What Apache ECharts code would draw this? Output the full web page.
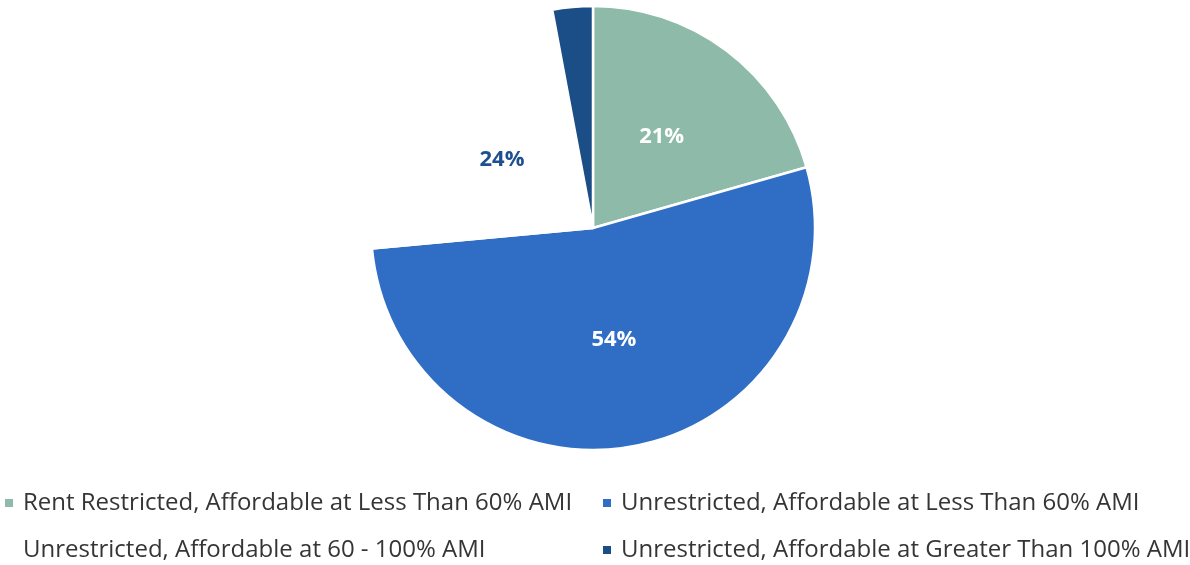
<!DOCTYPE html>
<html>
<head>
<meta charset="utf-8">
<script src="https://cdn.jsdelivr.net/npm/echarts@6/dist/echarts.min.js"></script>
<style>
  html, body { margin: 0; padding: 0; background: #ffffff; }
  #chart { width: 1190px; height: 565px; }
</style>
</head>
<body>
<div id="chart"></div>
<script>
// Housing stock by affordability / restriction category (percent)
const categories = [
  'Rent Restricted, Affordable at Less Than 60% AMI',
  'Unrestricted, Affordable at Less Than 60% AMI',
  'Unrestricted, Affordable at 60 - 100% AMI',
  'Unrestricted, Affordable at Greater Than 100% AMI'
];
const shares = [21, 54, 24, 3];
const sliceColors = ['#8dbaa9', '#2f6ec4', '#ffffff', '#1b4d86'];
const labelColors = ['#ffffff', '#ffffff', '#1f4f8e', '#ffffff'];
const showLabel = [true, true, true, false];

const pieData = categories.map((name, i) => ({
  name: name,
  value: shares[i],
  itemStyle: { color: sliceColors[i] },
  label: { show: showLabel[i], color: labelColors[i] }
}));

const legendBase = {
  orient: 'vertical',
  icon: 'rect',
  itemWidth: 8,
  itemHeight: 8,
  itemGap: 21,
  padding: 0,
  height: 74,
  selectedMode: false,
  itemStyle: { borderWidth: 0 },
  textStyle: {
    fontFamily: 'Open Sans',
    fontSize: 24,
    lineHeight: 26,
    color: '#353535',
    padding: [0, 0, 0, 5]
  }
};

const chart = echarts.init(document.getElementById('chart'), null, { renderer: 'canvas' });
chart.setOption({
  backgroundColor: '#ffffff',
  animation: false,
  legend: [
    Object.assign({}, legendBase, { left: 5, top: 490, data: [categories[0], categories[2]] }),
    Object.assign({}, legendBase, { left: 603, top: 490, data: [categories[1], categories[3]] })
  ],
  series: [{
    type: 'pie',
    center: [593, 228],
    radius: 222,
    startAngle: 90,
    clockwise: true,
    avoidLabelOverlap: false,
    itemStyle: { borderColor: '#ffffff', borderWidth: 2.5 },
    label: {
      position: 'inside',
      formatter: '{c}%',
      fontFamily: 'Open Sans',
      fontWeight: 'bold',
      fontSize: 22
    },
    labelLine: { show: false },
    emphasis: { disabled: true },
    data: pieData
  }]
});
</script>
</body>
</html>
